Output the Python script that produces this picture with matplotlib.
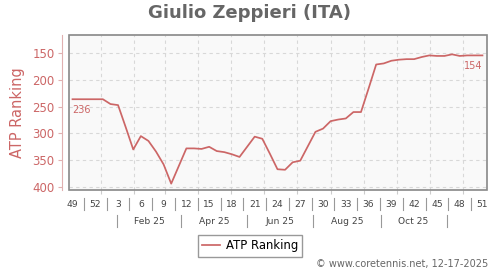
import numpy as np
import pandas as pd
import matplotlib.pyplot as plt
import matplotlib.transforms as mtransforms
from matplotlib.patches import Rectangle

# weekly ATP ranking, week 49 of 2024 to week 51 of 2025
weeks = pd.date_range('2024-12-06', periods=55, freq='7D')
ranking = [236, 236, 236, 236, 236, 245, 247, 288, 330, 305,
           314, 334, 358, 394, 361, 328, 328, 329, 325, 333,
           335, 339, 344, 325, 306, 310, 338, 367, 368, 354,
           351, 324, 297, 291, 277, 274, 272, 260, 260, 216,
           171, 169, 164, 162, 161, 161, 157, 154, 155, 155,
           152, 155, 154, 154, 154]
yticks = [150, 200, 250, 300, 350, 400]
week_labels = [str(d.isocalendar()[1]) for d in weeks]
month_lines = pd.date_range('2025-01-01', '2025-12-01', freq='MS')
month_seps = pd.to_datetime(['2025-01-16', '2025-03-16', '2025-05-16',
                             '2025-07-16', '2025-09-16', '2025-11-16'])
month_names = ['Feb 25', 'Apr 25', 'Jun 25', 'Aug 25', 'Oct 25']

red = '#cc6666'
gray = '#444444'

fig = plt.figure(figsize=(5, 2.7), dpi=100)
ax = fig.add_axes([0.137, 0.296, 0.837, 0.574])
ax.set_facecolor('#f9f9f9')

ax.plot(weeks, ranking, c=red, linewidth=1.25, label='ATP Ranking')

ax.set_xlim(weeks[0] - pd.Timedelta(days=3.7), weeks[-1] + pd.Timedelta(days=4.2))
ax.set_ylim(406, 116)

# grid
for d in month_lines:
    ax.axvline(d, color='#d8d8d8', linewidth=0.8, linestyle=(0, (3, 3)), zorder=0)
for v in yticks:
    ax.axhline(v, color='#d8d8d8', linewidth=0.8, linestyle=(0, (3, 3)), zorder=0)

# box + offset y axis
for s in ['top', 'right', 'bottom']:
    ax.spines[s].set_visible(False)
ax.spines['left'].set_position(('outward', 5))
ax.spines['left'].set_color('#e0b0b0')
ax.add_patch(Rectangle((0, 0), 1, 1, transform=ax.transAxes, fill=False,
                       edgecolor='#888888', linewidth=1.2, clip_on=False, zorder=5))

ax.set_yticks(yticks)
ax.tick_params(axis='y', colors='#e0b0b0', labelcolor=red, labelsize=8.5, length=3, pad=2)
ax.set_xticks(month_lines)
ax.set_xticklabels([])
ax.tick_params(axis='x', colors='#cccccc', length=3)
ax.set_ylabel('ATP Ranking', color=red, fontsize=10.5, labelpad=5)

# week labels with separators
tr = mtransforms.blended_transform_factory(ax.transData, ax.transAxes)
for i in range(0, len(weeks), 3):
    ax.text(weeks[i], -0.09, week_labels[i], transform=tr, ha='center', va='center',
            fontsize=6.6, color=gray)
    if i + 3 < len(weeks):
        xs = weeks[i] + pd.Timedelta(days=10.5)
        ax.plot([xs, xs], [-0.05, -0.13], transform=tr, color='#999999',
                linewidth=0.8, clip_on=False)

# month labels with separators
for d in month_seps:
    ax.plot([d, d], [-0.16, -0.24], transform=tr, color='#999999',
            linewidth=0.8, clip_on=False)
for k, name in enumerate(month_names):
    mid = month_seps[k] + (month_seps[k + 1] - month_seps[k]) / 2
    ax.text(mid, -0.2, name, transform=tr, ha='center', va='center',
            fontsize=6.6, color=gray)

# first / last value labels
ax.annotate(str(ranking[0]), (weeks[0], ranking[0]), xytext=(0, -4),
            textcoords='offset points', ha='left', va='top', fontsize=7, color=red)
ax.annotate(str(ranking[-1]), (weeks[-1], ranking[-1]), xytext=(0, -4),
            textcoords='offset points', ha='right', va='top', fontsize=7, color=red)

fig.suptitle('Giulio Zeppieri (ITA)', x=0.5, y=0.985, fontsize=13,
             fontweight='bold', color='#666666', va='top')

fig.legend(loc='center', bbox_to_anchor=(0.5, 0.089), fancybox=False,
           edgecolor='#999999', fontsize=8.4, handlelength=1.6, handletextpad=0.5,
           borderpad=0.35, framealpha=1)

fig.text(0.977, 0.022, '\u00a9 www.coretennis.net, 12-17-2025', ha='right',
         va='center', fontsize=7, color='#666666')

fig.savefig('out.png', dpi=100)
